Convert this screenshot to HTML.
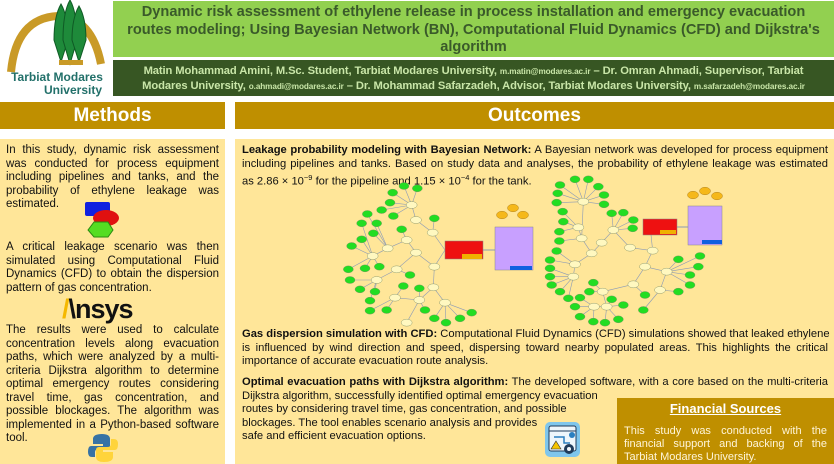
<!DOCTYPE html>
<html><head><meta charset="utf-8">
<style>
*{margin:0;padding:0;box-sizing:border-box}
body{width:834px;height:464px;background:#fff;position:relative;overflow:hidden;font-family:"Liberation Sans",sans-serif;color:#111}
.a{position:absolute}
.title{left:113px;top:1px;width:721px;height:56px;background:#92d050;color:#3a5a2a;font-weight:bold;font-size:14.6px;line-height:17.5px;text-align:center;padding-top:3px;white-space:nowrap}
.auth{left:113px;top:60px;width:721px;height:36px;background:#375623;color:#c9e6a8;font-weight:bold;font-size:11.2px;line-height:14px;text-align:center;padding-top:4px;white-space:nowrap;letter-spacing:-0.1px}
.auth small{font-size:8.2px}
.hdr{top:102px;height:27px;background:#bf8f00;color:#fff;font-weight:bold;font-size:19px;line-height:27px;text-align:center}
.pan{top:139px;height:325px;background:#ffe699}
.l{position:absolute;white-space:nowrap;line-height:13px}
.j{text-align:justify;text-align-last:justify}
.m{left:6px;width:213px;font-size:11.5px}
.o{left:242px;width:586px;font-size:11.2px}
.fin{left:617px;top:398px;width:217px;height:66px;background:#bf8f00}
.f{left:624px;width:203px;color:#fff5d8;font-size:11px}
</style></head><body>
<svg class="a" style="left:0;top:0" width="112" height="100">
<path d="M11 72 Q16 18 58 16 Q92 18 101 64" fill="none" stroke="#c99a27" stroke-width="8"/>
<g fill="#1e8a3a" stroke="#0f5a25" stroke-width="1">
<path d="M61 62 L54 40 Q54 16 61 4 Q68 16 68 40 Z"/>
<path d="M70 64 L63 40 Q63 12 70 0 Q77 12 77 40 Z"/>
<path d="M79 62 L72 40 Q72 18 79 6 Q86 18 86 40 Z"/>
</g>
<rect x="59" y="60" width="24" height="5" fill="#c99a27"/>
<text x="57" y="81" font-family="Liberation Sans" font-weight="bold" font-size="12" fill="#22706a" text-anchor="middle">Tarbiat Modares</text>
<text x="102" y="94" font-family="Liberation Sans" font-weight="bold" font-size="12" fill="#22706a" text-anchor="end">University</text>
</svg>
<div class="a title">Dynamic risk assessment of ethylene release in process installation and emergency evacuation<br>routes modeling; Using Bayesian Network (BN), Computational Fluid Dynamics (CFD) and Dijkstra's<br>algorithm</div>
<div class="a auth">Matin Mohammad Amini, M.Sc. Student, Tarbiat Modares University, <small>m.matin@modares.ac.ir</small> – Dr. Omran Ahmadi, Supervisor, Tarbiat<br>Modares University, <small>o.ahmadi@modares.ac.ir</small> – Dr. Mohammad Safarzadeh, Advisor, Tarbiat Modares University, <small>m.safarzadeh@modares.ac.ir</small></div>
<div class="a hdr" style="left:0;width:225px">Methods</div>
<div class="a hdr" style="left:235px;width:599px">Outcomes</div>
<div class="a pan" style="left:0;width:225px"></div>
<div class="a pan" style="left:235px;width:599px"></div>

<div class="l m j" style="top:144px">In this study, dynamic risk assessment</div>
<div class="l m j" style="top:157.5px">was conducted for process equipment</div>
<div class="l m j" style="top:171px">including pipelines and tanks, and the</div>
<div class="l m j" style="top:184.5px">probability of ethylene leakage was</div>
<div class="l m" style="top:198px">estimated.</div>
<svg class="a" style="left:84px;top:201px" width="38" height="37">
<rect x="1" y="1" width="25" height="14" rx="2" fill="#1020e0"/>
<ellipse cx="22" cy="17" rx="13" ry="8" fill="#e01010"/>
<polygon points="4,29 10,21 24,21 29,29 24,36 10,36" fill="#55dd22" stroke="#2a8a10"/>
</svg>
<div class="l m j" style="top:241px">A critical leakage scenario was then</div>
<div class="l m j" style="top:254.5px">simulated using Computational Fluid</div>
<div class="l m j" style="top:268px">Dynamics (CFD) to obtain the dispersion</div>
<div class="l m" style="top:281.5px">pattern of gas concentration.</div>
<div class="a" style="left:62px;top:295px;font-weight:bold;font-size:27px;line-height:28px;color:#111;letter-spacing:-1px"><span style="color:#f5b800">/</span>\nsys</div>
<div class="l m j" style="top:324px">The results were used to calculate</div>
<div class="l m j" style="top:337.5px">concentration levels along evacuation</div>
<div class="l m j" style="top:351px">paths, which were analyzed by a multi-</div>
<div class="l m j" style="top:364.5px">criteria Dijkstra algorithm to determine</div>
<div class="l m j" style="top:378px">optimal emergency routes considering</div>
<div class="l m j" style="top:391.5px">travel time, gas concentration, and</div>
<div class="l m j" style="top:405px">possible blockages. The algorithm was</div>
<div class="l m j" style="top:418.5px">implemented in a Python-based software</div>
<div class="l m" style="top:432px">tool.</div>
<svg class="a" style="left:88px;top:433px" width="30" height="30">
<path d="M14 1 Q5 1 5 6 V11 H15 V13 H3 Q0 13 0 19 Q0 24 4 24 H7 V19 Q7 16 11 16 H19 Q22 16 22 13 V6 Q22 1 14 1Z" fill="#3772a4"/>
<path d="M16 29 Q25 29 25 24 V19 H15 V17 H27 Q30 17 30 11 Q30 6 26 6 H23 V11 Q23 14 19 14 H11 Q8 14 8 17 V24 Q8 29 16 29Z" fill="#ffd43b"/>
</svg>

<div class="l o j" style="top:144px"><b>Leakage probability modeling with Bayesian Network:</b> A Bayesian network was developed for process equipment</div>
<div class="l o j" style="top:157.5px">including pipelines and tanks. Based on study data and analyses, the probability of ethylene leakage was estimated</div>
<div class="l o" style="top:171px">as 2.86 × 10<sup style="font-size:7.5px">−9</sup> for the pipeline and 1.15 × 10<sup style="font-size:7.5px">−4</sup> for the tank.</div>

<svg id="bn" class="a" style="left:330px;top:170px" width="500" height="160"></svg>

<div class="l o j" style="top:328px"><b>Gas dispersion simulation with CFD:</b> Computational Fluid Dynamics (CFD) simulations showed that leaked ethylene</div>
<div class="l o j" style="top:341.5px">is influenced by wind direction and speed, dispersing toward nearby populated areas. This highlights the critical</div>
<div class="l o" style="top:355px">importance of accurate evacuation route analysis.</div>
<div class="l o j" style="top:376px"><b>Optimal evacuation paths with Dijkstra algorithm:</b> The developed software, with a core based on the multi-criteria</div>
<div class="l o" style="top:389.5px">Dijkstra algorithm, successfully identified optimal emergency evacuation</div>
<div class="l o" style="top:403px">routes by considering travel time, gas concentration, and possible</div>
<div class="l o" style="top:416.5px">blockages. The tool enables scenario analysis and provides</div>
<div class="l o" style="top:430px">safe and efficient evacuation options.</div>
<svg class="a" style="left:544px;top:421px" width="37" height="37">
<rect x="1" y="1" width="35" height="35" rx="5" fill="#7fc6ec"/>
<rect x="5" y="5" width="27" height="25" rx="2" fill="#eef6fb" stroke="#1f3b5a"/>
<line x1="5" y1="10" x2="32" y2="10" stroke="#1f3b5a"/>
<path d="M10 16 H20 V22 H26" fill="none" stroke="#2a7fc0" stroke-width="1.5"/>
<circle cx="28" cy="14" r="3" fill="#2a7fc0"/>
<polygon points="12,20 17,28 7,28" fill="#f5c400" stroke="#333" stroke-width=".6"/>
<circle cx="25" cy="28" r="5" fill="#1f3b5a"/><circle cx="25" cy="28" r="2" fill="#eef6fb"/>
</svg>

<div class="a fin"></div>
<div class="a" style="left:617px;top:401px;width:217px;text-align:center;color:#fff;font-weight:bold;font-size:13px;text-decoration:underline">Financial Sources</div>
<div class="l j f" style="top:425px">This study was conducted with the</div>
<div class="l j f" style="top:438px">financial support and backing of the</div>
<div class="l f" style="top:451px">Tarbiat Modares University.</div>

<script>
(function(){
var s=document.getElementById('bn'),h='';
function P(a){return a.map(function(p){return [p[0]/3,p[1]/3];});}
var LY=P([[245,105],[258,150],[308,188],[230,210],[173,235],[258,248],[128,258],[313,290],[200,298],[140,330],[310,352],[195,383],[268,390],[345,398],[230,458]]);
var LG=P([[188,68],[222,48],[262,55],[180,98],[155,120],[112,132],[95,160],[190,138],[140,160],[130,190],[95,208],[65,228],[215,178],[313,145],[55,298],[105,295],[148,290],[60,330],[90,358],[135,365],[120,392],[120,422],[170,420],[240,315],[220,348],[268,355],[285,420],[313,445],[348,458],[390,445],[425,428]]);
var RY=P([[760,95],[745,172],[755,205],[815,218],[850,180],[900,233],[785,250],[735,283],[730,320],[968,242],[945,290],[1010,305],[910,343],[990,360],[818,365],[792,410],[830,410]]);
var RG=P([[735,28],[775,28],[805,50],[822,75],[822,103],[690,45],[683,70],[680,98],[698,125],[700,155],[688,185],[688,213],[680,243],[660,270],[660,295],[660,320],[665,345],[690,365],[715,385],[750,383],[778,365],[790,338],[735,410],[750,440],[790,455],[825,458],[865,448],[845,388],[880,405],[945,375],[940,420],[880,128],[910,150],[908,175],[845,130],[1045,268],[1110,258],[1105,290],[1080,315],[1045,365],[1080,345]]);
function near(p,arr){var b=null,d=1e9;arr.forEach(function(q){var dd=(q[0]-p[0])*(q[0]-p[0])+(q[1]-p[1])*(q[1]-p[1]);if(dd<d&&dd>0){d=dd;b=q;}});return b;}
function ln(p,q){h+='<line x1="'+p[0]+'" y1="'+p[1]+'" x2="'+q[0]+'" y2="'+q[1]+'" stroke="#8a9ab8" stroke-width=".6"/>';}
function edges(G,Y,hub){
 G.forEach(function(p){ln(p,near(p,Y));});
 Y.forEach(function(p){var d=Math.hypot(p[0]-hub[0],p[1]-hub[1]);var cand=Y.filter(function(q){return Math.hypot(q[0]-hub[0],q[1]-hub[1])<d;});var q=cand.length?near(p,cand):hub;if(Math.hypot(q[0]-p[0],q[1]-p[1])>Math.hypot(hub[0]-p[0],hub[1]-p[1]))q=hub;ln(p,q);});
}
edges(LG,LY,[115,80]);edges(RG,RY,[320,55]);
function nodes(A,c,rx,ry){A.forEach(function(p){h+='<ellipse cx="'+p[0]+'" cy="'+p[1]+'" rx="'+rx+'" ry="'+ry+'" fill="'+c+'" stroke="#7a8a60" stroke-width=".4"/>';});}
nodes(LG,'#22dd22',5,3.5);nodes(RG,'#22dd22',5,3.5);nodes(LY,'#fff8c0',5.5,3.5);nodes(RY,'#fff8c0',5.5,3.5);
function box(x,y,w,hh){return '<rect x="'+x+'" y="'+y+'" width="'+w+'" height="'+hh+'"';}
h+='<line x1="153" y1="80" x2="165" y2="80" stroke="#8a9ab8"/><line x1="347" y1="57" x2="358" y2="57" stroke="#8a9ab8"/>';
h+=box(115,71,38,18)+' fill="#ee1111" stroke="#888" stroke-width=".5"/>'+box(132,84,20,5)+' fill="#f0b000"/>';
h+=box(165,57,38,43)+' fill="#c8a0ff" stroke="#888" stroke-width=".5"/>'+box(180,96,22,4)+' fill="#1060e0"/>';
h+=box(313,49,34,16)+' fill="#ee1111" stroke="#888" stroke-width=".5"/>'+box(330,60,16,4)+' fill="#f0b000"/>';
h+=box(358,36,34,39)+' fill="#c8a0ff" stroke="#888" stroke-width=".5"/>'+box(372,70,20,4)+' fill="#1060e0"/>';
[[172,45],[183,38],[193,45],[363,25],[375,21],[387,26]].forEach(function(p){h+='<ellipse cx="'+p[0]+'" cy="'+p[1]+'" rx="5.5" ry="3.8" fill="#f5b81a" stroke="#a07010" stroke-width=".4"/>';});
s.innerHTML=h;
})();
</script>
</body></html>
